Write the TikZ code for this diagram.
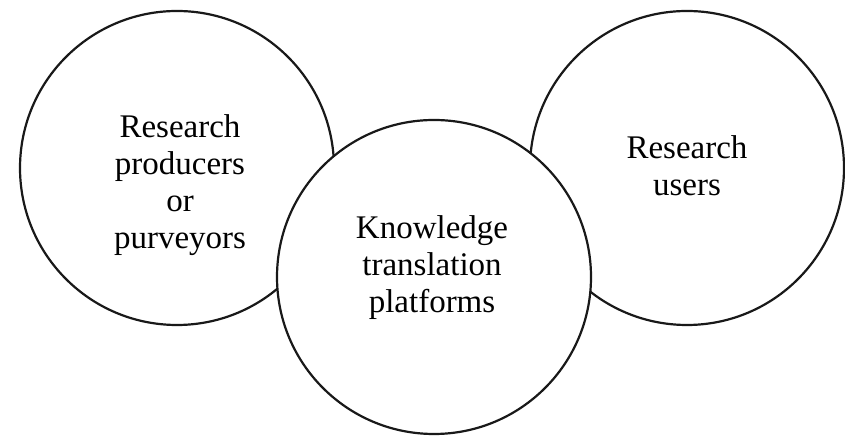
\documentclass[tikz,border=0pt]{standalone}
\usepackage{fontspec}
\setmainfont{Liberation Serif}
\begin{document}
\begin{tikzpicture}[x=1pt,y=1pt,
  ring/.style={circle,draw=black!90,line width=2.2pt,fill=white,minimum size=314pt,inner sep=0pt},
  txt/.style={align=center,font=\fontsize{33}{37}\selectfont,inner sep=0pt}]
\useasboundingbox (0,0) rectangle (845,438);
\node[ring] (L) at (177,270) {};
\node[ring] (R) at (687,270) {};
\node[ring] (M) at (434,161) {};
\node[txt] (Lt) at (180,253) {Research\\producers\\or\\purveyors};
\node[txt] (Rt) at (687,272) {Research\\users};
\node[txt] (Mt) at (432,170) {Knowledge\\translation\\platforms};
\end{tikzpicture}
\end{document}
